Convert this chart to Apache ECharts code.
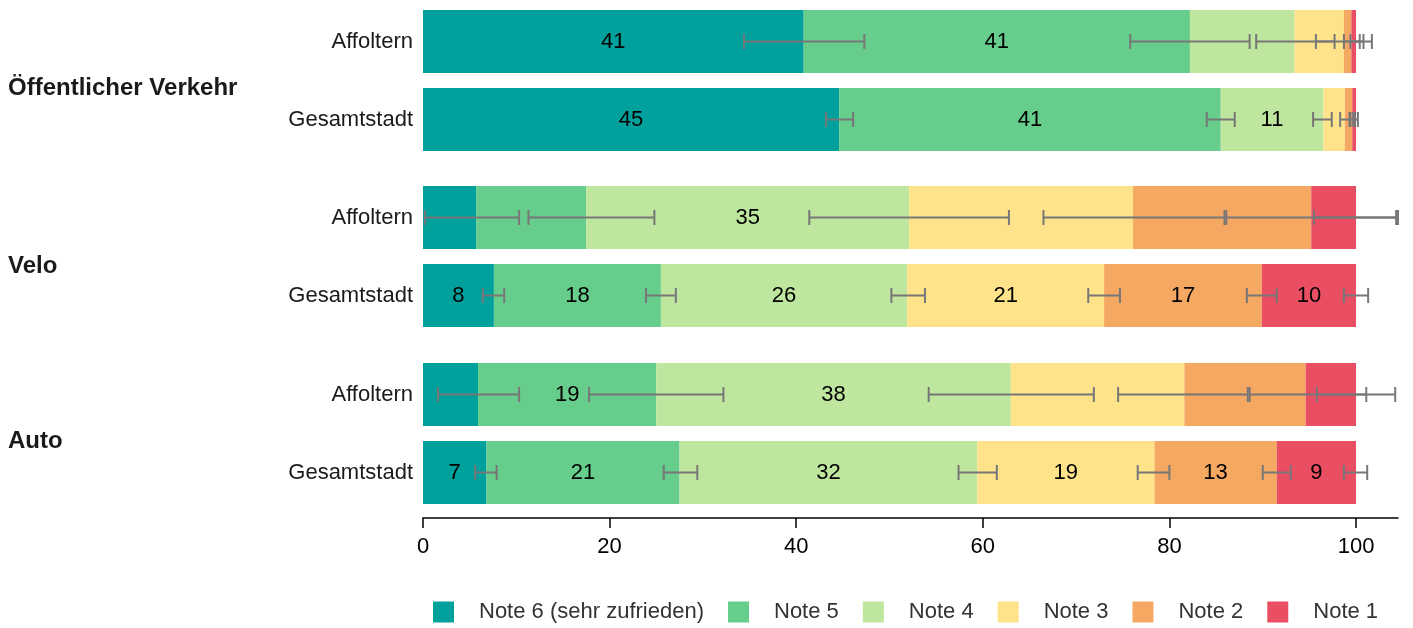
<!DOCTYPE html>
<html>
<head>
<meta charset="utf-8">
<script src="https://cdn.jsdelivr.net/npm/echarts@6/dist/echarts.min.js"></script>
<style>
  html, body { margin: 0; padding: 0; background: #fff; }
  #chart { width: 1413px; height: 628px; }
</style>
</head>
<body>
<div id="chart"></div>
<script>
// groups and rows (top to bottom)
const groups = ['Öffentlicher Verkehr', 'Velo', 'Auto'];
const rows = ['Affoltern', 'Gesamtstadt'];
const notes = ['Note 6 (sehr zufrieden)', 'Note 5', 'Note 4', 'Note 3', 'Note 2', 'Note 1'];
const colors = ['#00a09d', '#66cd8c', '#bee69e', '#fee38b', '#f5a862', '#ea4e62'];

// shares in %, rows: ÖV Affoltern, ÖV Gesamtstadt, Velo Affoltern, Velo Gesamtstadt, Auto Affoltern, Auto Gesamtstadt
const note6 = [40.8, 44.6, 5.7, 7.6, 5.9, 6.8];
const note5 = [41.4, 40.9, 11.8, 17.9, 19.1, 20.7];
const note4 = [11.2, 11.0, 34.6, 26.4, 38.0, 31.9];
const note3 = [5.3, 2.3, 24.0, 21.1, 18.6, 19.0];
const note2 = [0.8, 0.8, 19.1, 16.9, 13.0, 13.1];
const note1 = [0.5, 0.4, 4.8, 10.1, 5.4, 8.5];
const values = [note6, note5, note4, note3, note2, note1];

// which segments carry a value label (same row order, columns = notes)
const showLabel = [
  [1, 1, 0, 0, 0, 0],
  [1, 1, 1, 0, 0, 0],
  [0, 0, 1, 0, 0, 0],
  [1, 1, 1, 1, 1, 1],
  [0, 1, 1, 0, 0, 0],
  [1, 1, 1, 1, 1, 1]
];

// confidence interval of the cumulative share at each segment boundary
const ciLow = [
  [34.4, 75.8, 89.3, 95.7, 98.7, 99.4],
  [43.2, 84.0, 95.4, 98.3, 99.3, 99.7],
  [0.2, 11.3, 41.4, 66.5, 86.1, 95.5],
  [6.4, 23.9, 50.2, 71.3, 88.3, 98.7],
  [1.6, 17.8, 54.2, 74.5, 88.6, 95.8],
  [5.6, 25.8, 57.4, 76.6, 90.0, 98.7]
];
const ciHigh = [
  [47.3, 88.6, 97.7, 101.7, 100.4, 100.8],
  [46.1, 87.0, 97.4, 99.4, 99.9, 100.2],
  [10.3, 24.8, 62.8, 85.9, 104.3, 104.5],
  [8.7, 27.1, 53.8, 74.7, 91.5, 101.3],
  [10.3, 32.2, 71.9, 88.4, 101.1, 104.2],
  [7.9, 29.4, 61.5, 80.0, 93.0, 101.2]
];

const xTicks = [0, 20, 40, 60, 80, 100];
const FONT = '"Liberation Sans", Arial, sans-serif';

const myChart = echarts.init(document.getElementById('chart'));

const gridTops = [2.5, 178.5, 355.5];
const grid = [], xAxis = [], yAxis = [], series = [];

groups.forEach((g, gi) => {
  grid.push({ left: 423, right: 15, top: gridTops[gi], height: 156 });
  const last = gi === groups.length - 1;
  xAxis.push({
    gridIndex: gi, type: 'value', min: 0, max: 104.5,
    show: last, offset: 6.5,
    splitLine: { show: false },
    axisLine: { show: true, lineStyle: { color: '#000', width: 1.5 } },
    axisTick: { show: true, customValues: xTicks, length: 10, inside: false, lineStyle: { color: '#000', width: 1.5 } },
    axisLabel: { customValues: xTicks, color: '#000', fontSize: 22, fontFamily: FONT, margin: 18 }
  });
  yAxis.push({
    gridIndex: gi, type: 'category', data: rows, inverse: true,
    axisLine: { show: false }, axisTick: { show: false },
    axisLabel: { color: '#1a1a1a', fontSize: 22, fontFamily: FONT, margin: 10, padding: [4, 0, 0, 0] }
  });

  notes.forEach((n, ni) => {
    series.push({
      name: n, type: 'bar', stack: 'g' + gi,
      xAxisIndex: gi, yAxisIndex: gi,
      barWidth: 63,
      itemStyle: { color: colors[ni] },
      data: rows.map((r, ri) => {
        const row = gi * 2 + ri;
        return {
          value: values[ni][row],
          label: {
            show: !!showLabel[row][ni],
            position: 'inside',
            formatter: () => String(Math.round(values[ni][row])),
            color: '#000', fontSize: 22, fontFamily: FONT
          }
        };
      })
    });
  });

  // error bars
  const ciData = [];
  rows.forEach((r, ri) => {
    const row = gi * 2 + ri;
    for (let k = 0; k < notes.length; k++) ciData.push([ciLow[row][k], ciHigh[row][k], ri]);
  });
  series.push({
    type: 'custom', xAxisIndex: gi, yAxisIndex: gi, z: 10, clip: false,
    silent: true,
    encode: { x: [0, 1], y: 2 },
    data: ciData,
    renderItem: (params, api) => {
      const lo = api.coord([api.value(0), api.value(2)]);
      const hi = api.coord([api.value(1), api.value(2)]);
      const h = 7.5;
      const style = { stroke: '#777', lineWidth: 2, fill: null };
      return {
        type: 'group',
        children: [
          { type: 'line', shape: { x1: lo[0], y1: lo[1], x2: hi[0], y2: hi[1] }, style },
          { type: 'line', shape: { x1: lo[0], y1: lo[1] - h, x2: lo[0], y2: lo[1] + h }, style },
          { type: 'line', shape: { x1: hi[0], y1: hi[1] - h, x2: hi[0], y2: hi[1] + h }, style }
        ]
      };
    }
  });
});

const groupY = [88, 266, 441];
const graphic = groups.map((g, gi) => ({
  type: 'text', x: 8, y: groupY[gi],
  style: { text: g, fill: '#1a1a1a', font: 'bold 24px ' + FONT, verticalAlign: 'middle' }
}));

const option = {
  animation: false,
  grid, xAxis, yAxis, series, graphic,
  legend: {
    data: notes, left: 433, top: 601, padding: 0,
    icon: 'rect', itemWidth: 21, itemHeight: 21, itemGap: 24,
    textStyle: { color: '#333', fontSize: 22, fontFamily: FONT, padding: [0, 0, 0, 20] }
  }
};

myChart.setOption(option);
window.onresize = function () {
  myChart.resize();
};
</script>
</body>
</html>
